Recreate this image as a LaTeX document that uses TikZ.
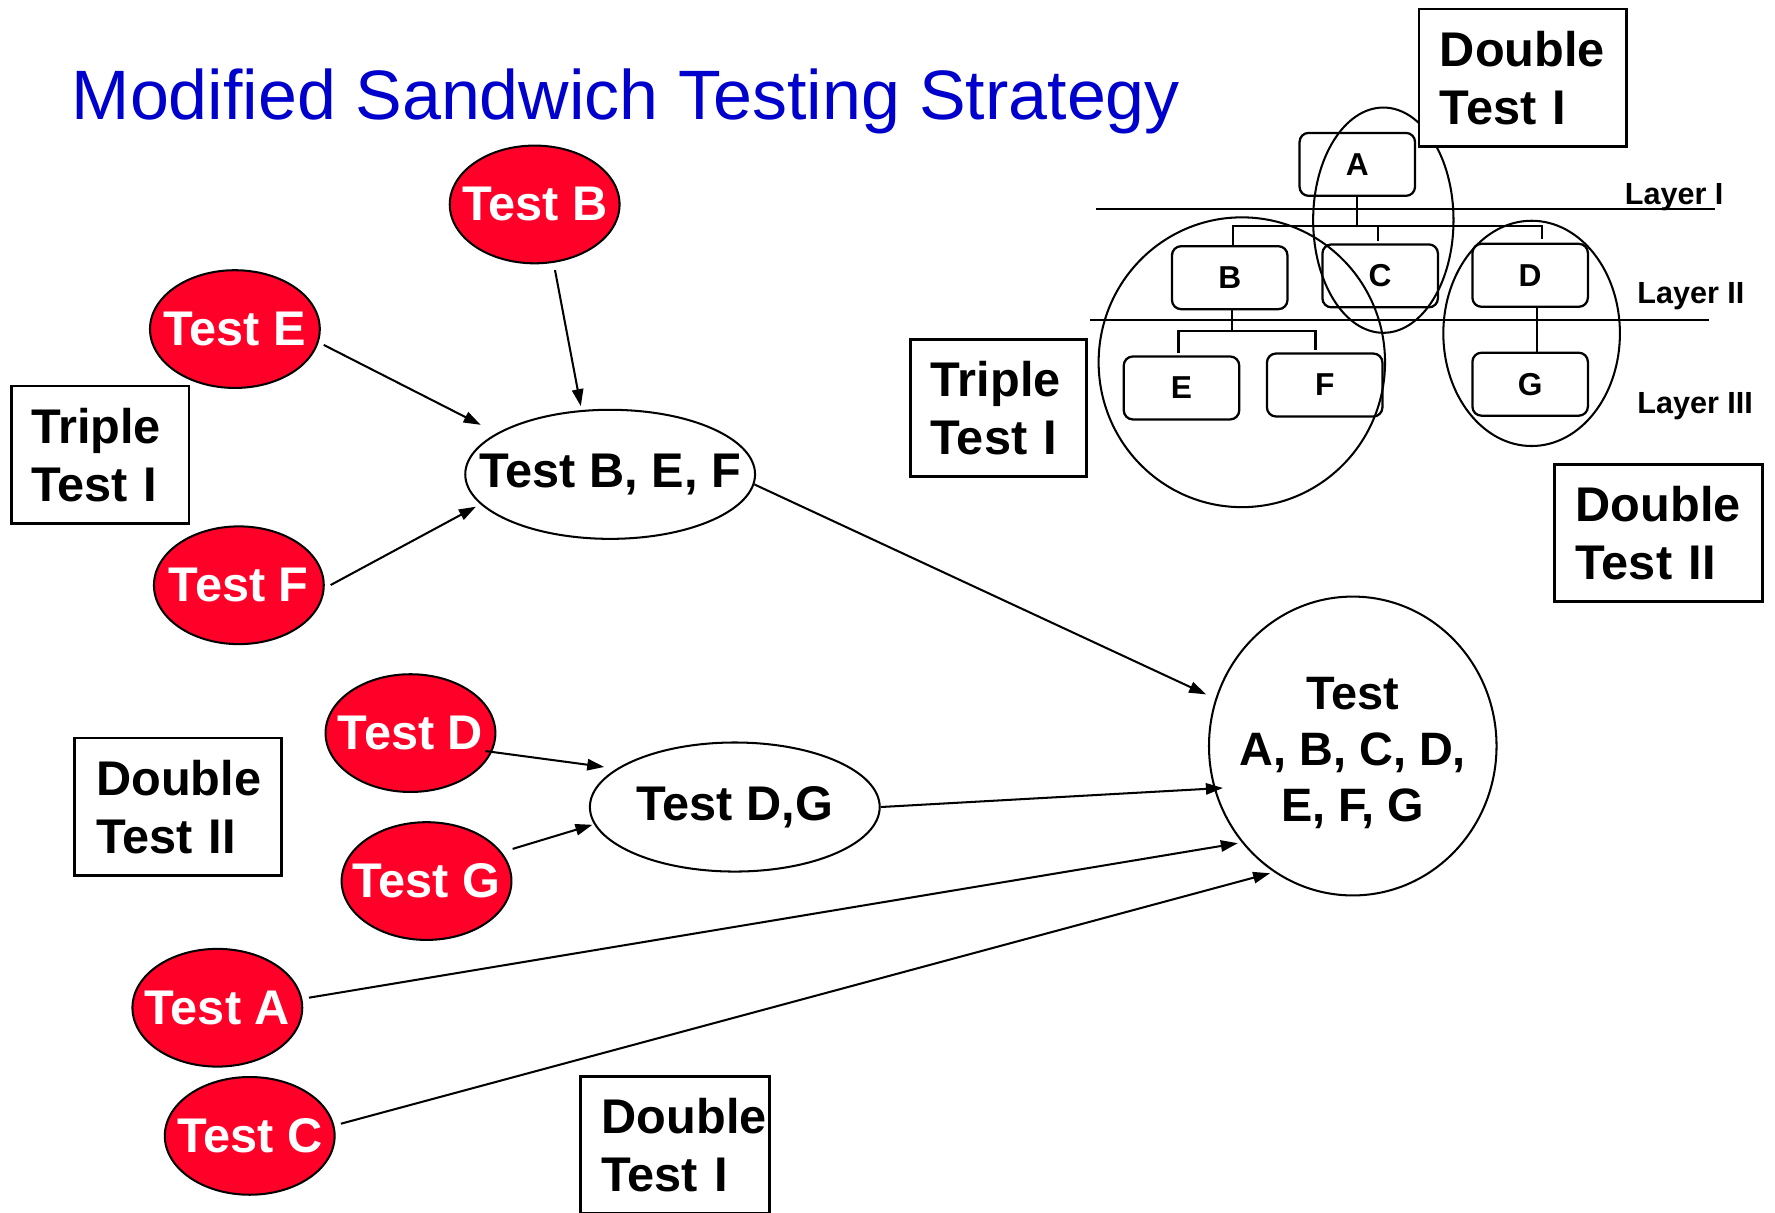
\documentclass[tikz,border=0pt]{standalone}
\usepackage{fontspec}
\setmainfont{Liberation Sans}
\usetikzlibrary{shapes.geometric,arrows.meta}
\definecolor{titleblue}{RGB}{0,0,204}
\definecolor{testred}{RGB}{255,0,41}

\begin{document}
\begin{tikzpicture}[x=0.5pt,y=-0.5pt,
  % a negative inner sep keeps the ellipse at its minimum size around the text
  redtest/.style={ellipse, draw=black, line width=0.9pt, fill=testred, text=white,
    font=\fontsize{21.5}{25}\selectfont\bfseries,
    minimum width=75pt, minimum height=52pt, inner sep=-40pt},
  whitetest/.style={ellipse, draw=black, line width=0.9pt, fill=white,
    font=\fontsize{21.5}{25}\selectfont\bfseries,
    minimum width=128pt, minimum height=57pt, inner sep=-40pt},
  labelbox/.style={rectangle, draw=black, line width=1.2pt, fill=white, align=left,
    font=\fontsize{21.5}{25.5}\selectfont\bfseries, inner sep=0pt},
  modbox/.style={rectangle, rounded corners=4pt, draw=black, line width=1pt,
    minimum width=51pt, minimum height=27.8pt, inner sep=0pt,
    font=\fontsize{14}{16}\selectfont\bfseries},
  group/.style={draw=black, line width=0.9pt},
  tree/.style={draw=black, line width=1pt},
  layerline/.style={draw=black, line width=1pt},
  layerlabel/.style={font=\fontsize{13.5}{16}\selectfont\bfseries, anchor=base west, inner sep=0pt},
  flow/.style={-{Triangle[length=7.5pt,width=5pt]}, line width=0.9pt},
]
\useasboundingbox (0,0) rectangle (1568,1071);
\clip (0,0) rectangle (1568,1071);

% heading
\node[anchor=base west, inner sep=0pt, text=titleblue,
      font=\fontsize{30.9}{36}\selectfont] (title) at (63,105.4)
      {Modified Sandwich Testing Strategy};

% ---- module hierarchy ----
\coordinate (l1a) at (968,184.6);  \coordinate (l1b) at (1515,184.6);
\coordinate (l2a) at (963,282.7);  \coordinate (l2b) at (1510,282.7);
\draw[layerline] (l1a) -- (l1b);
\draw[layerline] (l2a) -- (l2b);
\node[layerlabel] (lay1) at (1435,181) {Layer I};
\node[layerlabel] (lay2) at (1446,268.5) {Layer II};
\node[layerlabel] (lay3) at (1446,365) {Layer III};

\node[modbox] (hA) at (1199,145.2) {A};
\node[modbox] (hB) at (1086.3,245.3) {B};
\node[modbox] (hC) at (1219.2,243.7) {C};
\node[modbox] (hD) at (1351.7,243.2) {D};
\node[modbox] (hE) at (1043.7,342.7) {E};
\node[modbox] (hF) at (1170.2,340.1) {F};
\node[modbox] (hG) at (1351.7,339.4) {G};

\coordinate (bus1) at (0,199.5);
\coordinate (bus2) at (0,292.4);
\draw[tree] (hA.south) -- (hA.south |- bus1);
\draw[tree] ([xshift=1.35pt]hB.north) -- ([xshift=1.35pt]hB.north |- bus1)
  -- ([xshift=5.15pt]hD.north |- bus1) -- ([xshift=5.15pt,yshift=1.7pt]hD.north);
\draw[tree] ([xshift=-1.1pt,yshift=1pt]hC.north) -- ([xshift=-1.1pt]hC.north |- bus1);
\draw[tree] ([xshift=0.85pt]hB.south) -- ([xshift=0.85pt]hB.south |- bus2);
\draw[tree] ([xshift=-1.35pt,yshift=1pt]hE.north) -- ([xshift=-1.35pt]hE.north |- bus2)
  -- ([xshift=-4.1pt]hF.north |- bus2) -- ([xshift=-4.1pt,yshift=1pt]hF.north);
\draw[tree] ([xshift=3.15pt]hD.south) -- ([xshift=3.15pt]hG.north);

% groupings of the modules
\draw[group] (1222,194.5) ellipse [x radius=31pt, y radius=49.75pt];
\draw[group] (1097,320) ellipse [x radius=63.25pt, y radius=64pt];
\draw[group] (1353,294.5) ellipse [x radius=39pt, y radius=49.75pt];

% ---- captions ----
\node[labelbox, minimum width=78.5pt, minimum height=60.75pt, text width=61pt]
  (tripleL) at (88.5,401.7) {Triple\\Test I};
\node[labelbox, minimum width=91.25pt, minimum height=60.7pt, text width=72.25pt]
  (doubleL) at (157.25,712.7) {Double\\Test II};
\node[labelbox, minimum width=83.25pt, minimum height=60.5pt, text width=64.75pt]
  (doubleB) at (596.25,1011.5) {Double\\Test I};
\node[labelbox, minimum width=91.5pt, minimum height=60.8pt, text width=73pt]
  (doubleTR) at (1345,68.8) {Double\\Test I};
\node[labelbox, minimum width=77.5pt, minimum height=60.7pt, text width=59.75pt]
  (tripleM) at (882,360.3) {Triple\\Test I};
\node[labelbox, minimum width=92pt, minimum height=60.5pt, text width=73pt]
  (doubleR) at (1465,470.7) {Double\\Test II};

% ---- test steps ----
\node[redtest] (tB) at (472.3,180.6) {Test B};
\node[redtest] (tE) at (207.5,290.7) {Test E};
\node[redtest] (tF) at (211,517) {Test F};
\node[redtest] (tD) at (362.6,647.6) {Test D};
\node[redtest] (tG) at (376.8,778.3) {Test G};
\node[redtest] (tA) at (192,890.2) {Test A};
\node[redtest] (tC) at (220.6,1003.4) {Test C};

\node[whitetest] (bef) at (539,419) {Test B, E, F};
\node[whitetest] (dg) at (649.1,712.9) {Test D,G};
% the strut on the first line sets the text block a little low in the circle
\node[whitetest, minimum width=127pt, minimum height=132pt, align=center,
      font=\fontsize{20.7}{24.7}\selectfont\bfseries]
  (all) at (1195,659) {\rule{0pt}{20.3pt}Test\\A, B, C, D,\\E, F, G};

% ---- flow ----
\draw[flow, shorten <=2.5pt, shorten >=8pt] (tE.-9) -- (bef.160);
\draw[flow, shorten <=3pt, shorten >=2.25pt] (tF.-2) -- (bef.-167);
\draw[flow, shorten <=3.25pt, shorten >=1.75pt] (tB.-72.5) -- (bef.114.6);
\draw[flow, shorten >=4.5pt] (bef.-4) -- (all.161.6);
\draw[flow, shorten <=-3pt, shorten >=5.5pt] (tD.-13.6) -- (dg.162.2);
\draw[flow, shorten <=5pt, shorten >=0.75pt] (tG.21.1) -- (dg.-173.1);
\draw[flow, shorten >=-4pt] (dg.0) -- (all.-163.4);
\draw[flow, shorten <=3pt, shorten >=1.75pt] (tA.6.3) -- (all.-139);
\draw[flow, shorten <=3pt, shorten >=1.75pt] (tC.7) -- (all.-122.9);
\end{tikzpicture}
\end{document}
